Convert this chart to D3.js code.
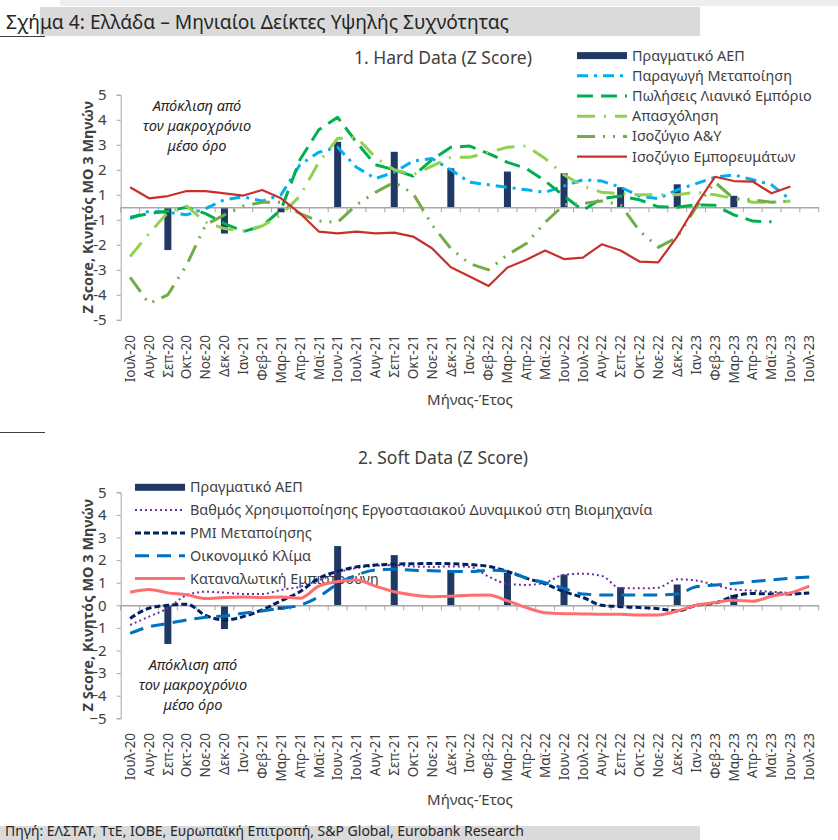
<!DOCTYPE html>
<html>
<head>
<meta charset="utf-8">
<script src="https://cdn.jsdelivr.net/npm/d3@7"></script>
<style>
  body { margin: 0; background: #fff; }
  text { font-family: "Noto Sans", sans-serif; fill: #404040; }
</style>
</head>
<body>
<svg id="chart" width="838" height="840"></svg>
<script>
// months on the x axis (both panels)
const months = ["Ιουλ-20","Αυγ-20","Σεπ-20","Οκτ-20","Νοε-20","Δεκ-20","Ιαν-21","Φεβ-21","Μαρ-21","Απρ-21","Μαϊ-21","Ιουν-21",
  "Ιουλ-21","Αυγ-21","Σεπ-21","Οκτ-21","Νοε-21","Δεκ-21","Ιαν-22","Φεβ-22","Μαρ-22","Απρ-22","Μαϊ-22","Ιουν-22",
  "Ιουλ-22","Αυγ-22","Σεπ-22","Οκτ-22","Νοε-22","Δεκ-22","Ιαν-23","Φεβ-23","Μαρ-23","Απρ-23","Μαϊ-23","Ιουν-23","Ιουλ-23"];

// quarterly real GDP (bars)
const gdpMonths = ["Σεπ-20","Δεκ-20","Μαρ-21","Ιουν-21","Σεπ-21","Δεκ-21","Μαρ-22","Ιουν-22","Σεπ-22","Δεκ-22","Μαρ-23"];
const gdp = [-1.71,-1.05,-0.2,2.62,2.22,1.56,1.43,1.36,0.8,0.92,0.46];

// 1. hard data
const manufProd = [-0.45,-0.15,-0.2,-0.3,-0.05,0.3,0.42,0.25,0.5,1.7,2.2,2.4,1.6,1.15,1.4,1.85,1.95,1.5,1.0,0.9,0.8,0.7,0.6,0.85,1.1,1.05,0.8,0.45,0.35,0.7,0.95,1.2,1.3,1.1,0.9,0.3,null];
const retailSales = [-0.4,-0.25,-0.15,0.0,-0.25,-0.65,-0.97,-0.75,-0.1,1.9,3.1,3.6,2.6,1.7,1.5,1.25,1.9,2.4,2.45,2.15,1.8,1.55,1.05,0.45,-0.12,0.35,0.45,0.3,0.02,0.0,0.1,0.08,-0.3,-0.55,-0.58,null,null];
const employment = [-1.97,-1.05,-0.2,0.05,-0.6,-0.85,-0.95,-0.75,-0.3,0.45,1.8,2.75,2.8,2.0,1.5,1.3,1.65,2.0,2.0,2.2,2.4,2.45,1.95,1.3,0.85,0.6,0.55,0.5,0.5,0.5,0.6,0.5,0.35,0.2,0.2,0.25,null];
const servicesBal = [-2.8,-3.85,-3.5,-2.3,-0.7,-0.3,0.05,0.2,0.2,-0.25,-0.55,-0.6,0.1,0.6,1.0,0.55,-0.7,-1.65,-2.25,-2.5,-1.9,-1.45,-0.6,0.1,0.15,0.25,0.1,-0.95,-1.6,-1.2,0.0,1.0,0.35,0.3,0.2,0.25,null];
const goodsBal = [0.8,0.36,0.45,0.65,0.65,0.56,0.47,0.69,0.36,-0.24,-0.97,-1.04,-0.97,-1.04,-1.01,-1.17,-1.64,-2.4,-2.77,-3.15,-2.41,-2.1,-1.73,-2.07,-2.01,-1.48,-1.73,-2.17,-2.2,-1.17,0.09,1.22,1.05,1.03,0.56,0.83,null];

// 2. soft data
const capacityUtil = [-0.87,-0.5,-0.13,0.45,0.6,0.56,0.5,0.5,0.68,0.82,1.1,1.45,1.65,1.75,1.78,1.72,1.7,1.72,1.7,1.27,0.95,0.9,1.0,1.35,1.4,1.3,0.75,0.75,0.78,1.15,1.1,0.9,0.7,0.65,0.6,0.55,0.5];
const pmi = [-0.58,-0.13,0.0,0.05,-0.45,-0.65,-0.5,-0.2,0.2,0.6,1.2,1.5,1.7,1.78,1.82,1.84,1.85,1.84,1.8,1.72,1.5,1.2,0.95,0.6,0.35,0.0,-0.06,-0.1,-0.15,-0.25,0.0,0.1,0.4,0.52,0.5,0.5,0.55];
const econSentiment = [-1.24,-0.95,-0.8,-0.65,-0.53,-0.47,-0.35,-0.25,-0.13,0.0,0.38,0.95,1.34,1.56,1.6,1.55,1.53,1.5,1.49,1.55,1.5,1.2,1.0,0.75,0.5,0.46,0.46,0.46,0.46,0.5,0.82,0.9,0.97,1.05,1.12,1.2,1.25];
const consConfidence = [0.58,0.7,0.55,0.47,0.3,0.35,0.37,0.35,0.37,0.31,0.85,1.05,1.12,0.85,0.6,0.46,0.38,0.4,0.45,0.46,0.2,-0.1,-0.33,-0.37,-0.38,-0.4,-0.4,-0.43,-0.43,-0.25,0.0,0.12,0.22,0.18,0.4,0.55,0.85];

// the hard-data axis has no "0" label: 10 labels, evenly spaced
const hardTicks = [5,4,3,2,1,-1,-2,-3,-4,-5];
const softTicks = [5,4,3,2,1,0,-1,-2,-3,-4,-5];

const svg = d3.select("#chart");
const left = 120.7, right = 818.7;
const x = d3.scaleBand().domain(months).range([left, right]);
const cx = m => x(m) + x.bandwidth() / 2;

// header / frame bits
svg.append("rect").attr("x", 60).attr("y", 0).attr("width", 778).attr("height", 6).attr("fill", "#eeeeee");
svg.append("rect").attr("x", 40).attr("y", 7).attr("width", 660).attr("height", 29).attr("fill", "#dadada");
svg.append("text").attr("x", 6).attr("y", 29).style("font-size", "19.2px").style("fill", "#262626")
  .text("Σχήμα 4: Ελλάδα – Μηνιαίοι Δείκτες Υψηλής Συχνότητας");
svg.append("line").attr("x1", 0).attr("x2", 45).attr("y1", 36.5).attr("y2", 36.5).attr("stroke", "#404040");
svg.append("line").attr("x1", 0).attr("x2", 45).attr("y1", 432.5).attr("y2", 432.5).attr("stroke", "#404040");
svg.append("rect").attr("x", 0).attr("y", 826).attr("width", 700).attr("height", 14).attr("fill", "#dadada");
svg.append("text").attr("x", 5).attr("y", 836).style("font-size", "14px").style("fill", "#262626")
  .text("Πηγή: ΕΛΣΤΑΤ, ΤτΕ, ΙΟΒΕ, Ευρωπαϊκή Επιτροπή, S&P Global, Eurobank Research");

function drawPanel(p) {
  const g = svg.append("g");
  const y = p.y;
  const y0 = y(0);

  g.append("text").attr("x", 443).attr("y", p.titleY).attr("text-anchor", "middle")
    .style("font-size", "17.5px").text(p.title);

  // legend (drawn under the plot, as in the original)
  const lg = g.append("g");
  p.legend.forEach((s, k) => {
    const ly = p.legendY + k * p.legendStep;
    if (s.bar) {
      lg.append("rect").attr("x", p.legendX).attr("y", ly - 3.5).attr("width", 50).attr("height", 7).attr("fill", s.color);
    } else {
      lg.append("line").attr("x1", p.legendX).attr("x2", p.legendX + 50).attr("y1", ly).attr("y2", ly)
        .attr("stroke", s.color).attr("stroke-width", s.width).attr("stroke-dasharray", s.dash || null);
    }
    lg.append("text").attr("x", p.legendX + 55).attr("y", ly).attr("dy", "0.35em")
      .style("font-size", "14.4px").text(s.name);
  });

  // y axis
  const ya = g.append("g").attr("transform", `translate(${left},0)`)
    .call(d3.axisLeft(y).tickValues(p.tickPos).tickSize(4).tickPadding(10).tickFormat(p.tickFmt));
  ya.select(".domain").attr("stroke", "#a6a6a6");
  ya.selectAll(".tick line").attr("stroke", "#a6a6a6");
  ya.selectAll(".tick text").style("font-size", "15px").style("fill", "#404040").style("font-family", "Noto Sans");

  // annotation
  const note = g.append("text").attr("text-anchor", "middle")
    .style("font-size", "14.6px").style("font-style", "italic").style("fill", "#262626");
  p.note.forEach((t, k) => {
    note.append("tspan").attr("x", p.noteX).attr("y", p.noteY + k * 20).text(t);
  });

  // bars
  g.selectAll(".bar").data(gdpMonths.map((m, i) => ({ m, v: gdp[i] }))).enter().append("rect")
    .attr("x", d => cx(d.m) - 3.5).attr("width", 7)
    .attr("y", d => Math.min(y(d.v), y0)).attr("height", d => Math.abs(y(d.v) - y0))
    .attr("fill", "#1f3864");

  // x axis line at zero with ticks between categories
  const xa = g.append("g").attr("transform", `translate(0,${y0})`)
    .call(d3.axisBottom(x).tickSize(0).tickFormat(""));
  xa.select(".domain").attr("stroke", "#a6a6a6").attr("stroke-width", 1.5);
  xa.selectAll(".tick").remove();
  g.selectAll(".xt").data(months.concat([null])).enter().append("line")
    .attr("x1", m => m ? x(m) : right).attr("x2", m => m ? x(m) : right)
    .attr("y1", y0).attr("y2", y0 + 5).attr("stroke", "#a6a6a6");

  // series lines
  p.series.forEach(s => {
    const line = d3.line().defined(v => v !== null)
      .x((v, i) => cx(months[i])).y(v => y(v)).curve(p.curve);
    g.append("path").datum(s.values).attr("d", line).attr("fill", "none")
      .attr("stroke", s.color).attr("stroke-width", s.width).attr("stroke-dasharray", s.dash || null)
      .attr("stroke-linejoin", "round");
  });

  // category labels
  g.selectAll(".xl").data(months).enter().append("text")
    .attr("transform", m => `translate(${cx(m)},${p.labelTop}) rotate(-90)`)
    .attr("text-anchor", "end").attr("dy", "0.35em")
    .style("font-size", "13.5px").text(m => m);

  g.append("text").attr("x", 470).attr("y", p.xTitleY).attr("text-anchor", "middle")
    .style("font-size", "15px").text("Μήνας-Έτος");
  g.append("text").attr("transform", `translate(88,${y0}) rotate(-90)`).attr("text-anchor", "middle")
    .attr("dy", "0.35em").style("font-size", "14.5px").style("font-weight", "bold").style("fill", "#404040")
    .text("Z Score, Κινητός ΜΟ 3 Μηνών");
}

const hardSeries = [
  { name: "Παραγωγή Μεταποίηση", values: manufProd, color: "#00b0f0", width: 3, dash: "11,6,3,6" },
  { name: "Πωλήσεις Λιανικό Εμπόριο", values: retailSales, color: "#00b050", width: 3, dash: "16,8" },
  { name: "Απασχόληση", values: employment, color: "#92d050", width: 3, dash: "18,9,2,9" },
  { name: "Ισοζύγιο Α&Υ", values: servicesBal, color: "#70ad47", width: 3, dash: "18,8,2,8,2,8" },
  { name: "Ισοζύγιο Εμπορευμάτων", values: goodsBal, color: "#c9302c", width: 2.2 }
];
drawPanel({
  title: "1. Hard Data (Z Score)", titleY: 64,
  y: d3.scaleLinear().domain([-4.5, 4.5]).range([319.8, 94.8]),
  tickPos: hardTicks.map(t => t > 0 ? t - 0.5 : t + 0.5),
  tickFmt: v => v > 0 ? v + 0.5 : v - 0.5,
  legend: [{ name: "Πραγματικό ΑΕΠ", bar: true, color: "#1f3864" }].concat(hardSeries),
  legendX: 577, legendY: 55.6, legendStep: 20.2,
  note: ["Απόκλιση από", "τον μακροχρόνιο", "μέσο όρο"], noteX: 197, noteY: 111,
  series: hardSeries, curve: d3.curveLinear,
  labelTop: 335, xTitleY: 405
});

const softSeries = [
  { name: "Βαθμός Χρησιμοποίησης Εργοστασιακού Δυναμικού στη Βιομηχανία", values: capacityUtil, color: "#7030a0", width: 2, dash: "2,3" },
  { name: "PMI Μεταποίησης", values: pmi, color: "#002060", width: 3, dash: "6,3" },
  { name: "Οικονομικό Κλίμα", values: econSentiment, color: "#0070c0", width: 3, dash: "14,8" },
  { name: "Καταναλωτική Εμπιστοσύνη", values: consConfidence, color: "#ff6f6f", width: 3 }
];
drawPanel({
  title: "2. Soft Data (Z Score)", titleY: 464,
  y: d3.scaleLinear().domain([-5, 5]).range([718.3, 492.3]),
  tickPos: softTicks, tickFmt: d3.format("d"),
  legend: [{ name: "Πραγματικό ΑΕΠ", bar: true, color: "#1f3864" }].concat(softSeries),
  legendX: 135, legendY: 487.3, legendStep: 22.8,
  note: ["Απόκλιση από", "τον μακροχρόνιο", "μέσο όρο"], noteX: 193, noteY: 670,
  series: softSeries, curve: d3.curveMonotoneX,
  labelTop: 733, xTitleY: 805
});
</script>
</body>
</html>
